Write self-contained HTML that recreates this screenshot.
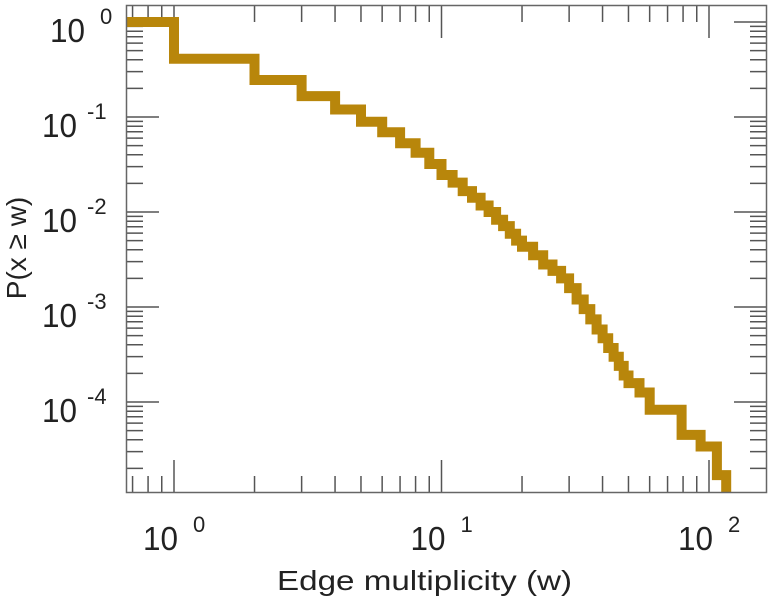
<!DOCTYPE html>
<html><head><meta charset="utf-8"><style>
body{margin:0;background:#fff;}
svg{display:block;font-family:"Liberation Sans",sans-serif;}
</style></head><body>
<svg id="chart" width="771" height="600">
<g id="ticks"></g>
<path id="series" fill="none" stroke="#b8860b" stroke-width="10" stroke-linejoin="miter" stroke-linecap="butt"/>
<rect x="126.5" y="5.5" width="640" height="487" fill="none" stroke="#666" stroke-width="1.5"/>
<g id="labels"></g>
<text x="277" y="590" font-size="28" fill="#222" textLength="295" lengthAdjust="spacingAndGlyphs">Edge multiplicity (w)</text>
<text transform="translate(26,248) rotate(-90)" font-size="28" fill="#222" text-anchor="middle">P(x ≥ w)</text>
</svg>
<script>
// step breakpoints (w) and CCDF level on [w_i, w_{i+1})
const wBreaks=[0.66,1,2,3,4,5,6,7,8,9,10,11,12,13,14,15,16,17,18,19,20,22,24,26,28,30,32,34,36,38,40,42,44,46,48,50,55,60,79,93,107];
const wEnd=116;
const ccdfLevels=[1,0.41,0.245,0.166,0.12,0.089,0.069,0.053,0.042,0.032,0.0245,0.0204,0.0166,0.0141,0.0117,0.01,0.0083,0.0071,0.0059,0.0050,0.0043,0.0035,0.0028,0.0024,0.0020,0.00158,0.0012,0.00095,0.00074,0.00058,0.00047,0.00037,0.0003,0.00024,0.00019,0.000158,0.000126,0.000083,0.000045,0.000034,0.000017];
const xTickExps=[0,1,2];
const yTickExps=[0,-1,-2,-3,-4];

const L=126,R=767,T=5,B=493;
const X0=174,XD=267.5,Y0=22,YD=95;
const xs=w=>X0+Math.log10(w)*XD;
const ys=p=>Y0-Math.log10(p)*YD;
const NS='http://www.w3.org/2000/svg';

let d='';
for(let i=0;i<wBreaks.length;i++){
  const x1=Math.max(L,xs(wBreaks[i]));
  const x2=xs(i+1<wBreaks.length?wBreaks[i+1]:wEnd);
  const y=ys(ccdfLevels[i]);
  d+=(i===0?'M':'L')+x1.toFixed(1)+','+y.toFixed(1)+'L'+x2.toFixed(1)+','+y.toFixed(1);
}
d+='L'+xs(wEnd).toFixed(1)+','+B;
document.getElementById('series').setAttribute('d',d);

const tg=document.getElementById('ticks');
function line(x1,y1,x2,y2,name){
  const l=document.createElementNS(NS,'line');
  l.setAttribute('x1',x1);l.setAttribute('y1',y1);l.setAttribute('x2',x2);l.setAttribute('y2',y2);
  l.setAttribute('stroke','#555');l.setAttribute('stroke-width','1.5');
  
  
  tg.appendChild(l);
}
for(let e=-1;e<=2;e++){
  for(let m=1;m<=9;m++){
    const x=xs(m*Math.pow(10,e));
    if(x<L||x>R)continue;
    const len=m===1?33:17;
    line(x,B,x,B-len,'x-tick');
    line(x,T,x,T+len,'x-tick-top');
  }
}
for(let e=-5;e<=0;e++){
  for(let m=1;m<=9;m++){
    const y=ys(m*Math.pow(10,e));
    if(y<T||y>B)continue;
    const len=m===1?33:17;
    line(L,y,L+len,y,'y-tick');
    line(R,y,R-len,y,'y-tick-right');
  }
}
const lg=document.getElementById('labels');
function label(x,y,exp,name){
  const t=document.createElementNS(NS,'text');
  t.setAttribute('x',x);t.setAttribute('y',y);t.setAttribute('font-size','33');t.setAttribute('fill','#222');
  t.setAttribute('textLength','35');t.setAttribute('lengthAdjust','spacingAndGlyphs');
  
  
  t.textContent='10';
  lg.appendChild(t);
  const s=document.createElementNS(NS,'text');
  s.setAttribute('x',x+(exp<0?45:50));s.setAttribute('y',y-18);s.setAttribute('font-size','22');s.setAttribute('fill','#222');
  
  
  s.textContent=String(exp);
  lg.appendChild(s);
}
function exp2x(e){return e<0?42:50;}
xTickExps.forEach(e=>label(xs(Math.pow(10,e))-31,550,e,'x-tick-label'));
yTickExps.forEach(e=>label(exp2x(e),ys(Math.pow(10,e))+20,e,'y-tick-label'));
</script>
</body></html>
